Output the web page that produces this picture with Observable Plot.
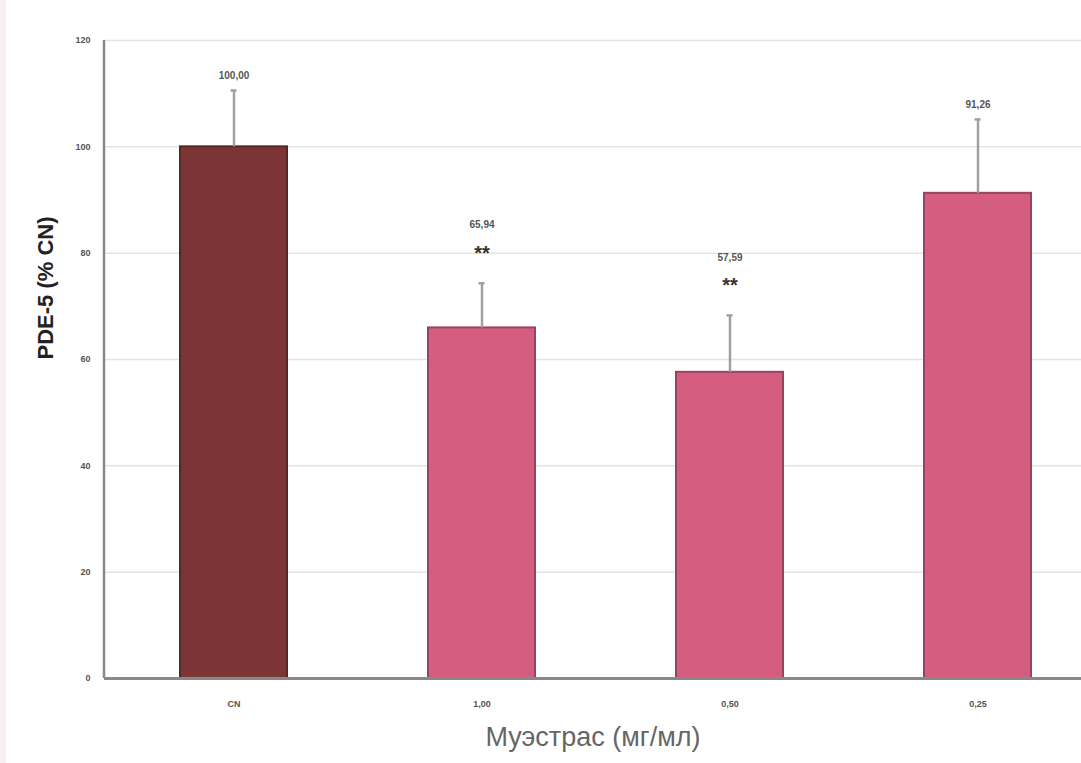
<!DOCTYPE html>
<html>
<head>
<meta charset="utf-8">
<script src="https://cdn.jsdelivr.net/npm/d3@7"></script>
<script src="https://cdn.jsdelivr.net/npm/@observablehq/plot@0.6"></script>
<style>
  html, body { margin: 0; padding: 0; background: #ffffff; overflow: hidden; }
  #chart { width: 1081px; height: 763px; border-left: 6px solid #fbeeee; box-sizing: border-box; }
</style>
</head>
<body>
<div id="chart"></div>
<script>
const categories = ["CN", "1,00", "0,50", "0,25"];
const means = [100.00, 65.94, 57.59, 91.26];
const sds = [10.6, 8.4, 10.7, 13.9];
const valueLabels = ["100,00", "65,94", "57,59", "91,26"];
const stars = ["", "**", "**", ""];
const yTicks = [0, 20, 40, 60, 80, 100, 120];
const barColors = ["#7b3535", "#d45d80", "#d45d80", "#d45d80"];
const yTitle = "PDE-5 (% CN)";
const xTitle = "Муэстрас (мг/мл)";

const data = categories.map((c, i) => ({
  cat: c, mean: means[i], sd: sds[i], top: means[i] + sds[i],
  label: valueLabels[i], stars: stars[i], color: barColors[i]
}));

const xRange = [103, 1095], padIn = 0.57, padOut = 0.285;

const leftAxisLine = (index, scales, values, dims) => {
  const ns = "http://www.w3.org/2000/svg";
  const l = document.createElementNS(ns, "line");
  const x = dims.marginLeft;
  l.setAttribute("x1", x); l.setAttribute("x2", x);
  l.setAttribute("y1", scales.y(120)); l.setAttribute("y2", scales.y(0));
  l.setAttribute("stroke", "#888"); l.setAttribute("stroke-width", 2.5);
  return l;
};

const chart = Plot.plot({
  width: 1075,
  height: 763,
  marginLeft: 98,
  marginRight: 0,
  marginTop: 40,
  marginBottom: 85,
  style: { fontFamily: "Liberation Sans, Arial, sans-serif", background: "transparent" },
  x: { domain: categories, range: xRange, paddingInner: padIn, paddingOuter: padOut, label: null },
  y: { domain: [0, 120], label: null },
  marks: [
    Plot.gridY(yTicks, { stroke: "#e4e4e4", strokeOpacity: 1, strokeWidth: 1.5 }),
    Plot.barY(data, { x: "cat", y: "mean", fill: "color", stroke: d => d3.color(d.color).darker(0.9).formatHex(), strokeWidth: 2 }),
    Plot.ruleX(data, { x: "cat", y1: "mean", y2: "top", stroke: "#a0a0a0", strokeWidth: 2.5 }),
    Plot.tickY(data, { x: "cat", y: "top", stroke: "#a0a0a0", strokeWidth: 2.5, render: (index, scales, values, dims, ctx, next) => {
      const g = next(index, scales, values, dims, ctx);
      d3.select(g).selectAll("line").each(function() {
        const l = d3.select(this);
        const cx = (+l.attr("x1") + +l.attr("x2")) / 2;
        l.attr("x1", cx - 3).attr("x2", cx + 3);
      });
      return g;
    } }),
    Plot.text(data.filter(d => !d.stars), { x: "cat", y: "top", text: "label", dy: -15, fontSize: 10, fontWeight: "bold", fill: "#555" }),
    Plot.text(data.filter(d => d.stars), { x: "cat", y: "top", text: "label", dy: -58, fontSize: 10, fontWeight: "bold", fill: "#555" }),
    Plot.text(data.filter(d => d.stars), { x: "cat", y: "top", text: "stars", dy: -30, fontSize: 20, fontWeight: "bold", fill: "#333" }),
    Plot.ruleY([0], { stroke: "#888", strokeWidth: 3 }),
    Plot.axisY({ ticks: yTicks, tickSize: 0, tickPadding: 14, fontSize: 9, fontWeight: "bold", fill: "#555", tickFormat: d => d, label: null }),
    leftAxisLine,
    Plot.axisX({ tickSize: 0, tickPadding: 22, fontSize: 9, fontWeight: "bold", fill: "#555", label: null }),
    Plot.text([yTitle], { frameAnchor: "left", text: d => d, rotate: -90, dx: -59, fontSize: 22, fontWeight: "bold", fill: "#222" }),
    Plot.text([xTitle], { frameAnchor: "bottom", text: d => d, dy: 67, fontSize: 27, fill: "#666" })
  ]
});
document.getElementById("chart").appendChild(chart);
</script>
</body>
</html>
